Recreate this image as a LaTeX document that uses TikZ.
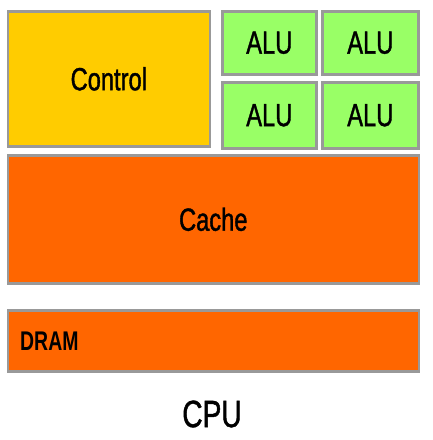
\documentclass[tikz,border=0pt]{standalone}
\usepackage{fontspec}
\setmainfont[FakeStretch=0.74,FakeBold=1.2]{Liberation Sans}
\newfontfamily\dramfont[FakeStretch=0.72]{Liberation Sans Bold}
\definecolor{ctlyellow}{HTML}{FFCC00}
\definecolor{alugreen}{HTML}{99FF66}
\definecolor{memorange}{HTML}{FF6600}
\definecolor{edgegray}{HTML}{999999}
\tikzset{
  blockbox/.style={draw=edgegray, line width=2.6pt, rectangle, inner sep=0pt, anchor=north west, font=\fontsize{32}{32}\selectfont},
}
\begin{document}
\begin{tikzpicture}[x=1pt,y=-1pt]
\useasboundingbox (0,0) rectangle (432,440);
\fill[white] (0,0) rectangle (432,440);
\node[blockbox, fill=ctlyellow, minimum width=202pt, minimum height=135pt] (ctrl) at (6.5,10) {Control};
\node[blockbox, fill=alugreen, minimum width=94pt, minimum height=63pt] (alua) at (221,10) {ALU};
\node[blockbox, fill=alugreen, minimum width=96pt, minimum height=63pt] (alub) at (321,10) {ALU};
\node[blockbox, fill=alugreen, minimum width=94pt, minimum height=66pt] (aluc) at (221,81) {ALU};
\node[blockbox, fill=alugreen, minimum width=96pt, minimum height=66pt] (alud) at (321,81) {ALU};
\node[blockbox, fill=memorange, minimum width=411pt, minimum height=128pt] (cache) at (6.5,154) {Cache};
\node[blockbox, fill=memorange, minimum width=411pt, minimum height=61pt] (dram) at (6.5,309) {};
\node[anchor=west, inner sep=0pt, font=\dramfont\fontsize{27}{27}\selectfont] (dramlabel) at (20,341) {DRAM};
\node[inner sep=0pt, font=\fontsize{38}{38}\selectfont] (cpu) at (212,414) {CPU};
\end{tikzpicture}
\end{document}
